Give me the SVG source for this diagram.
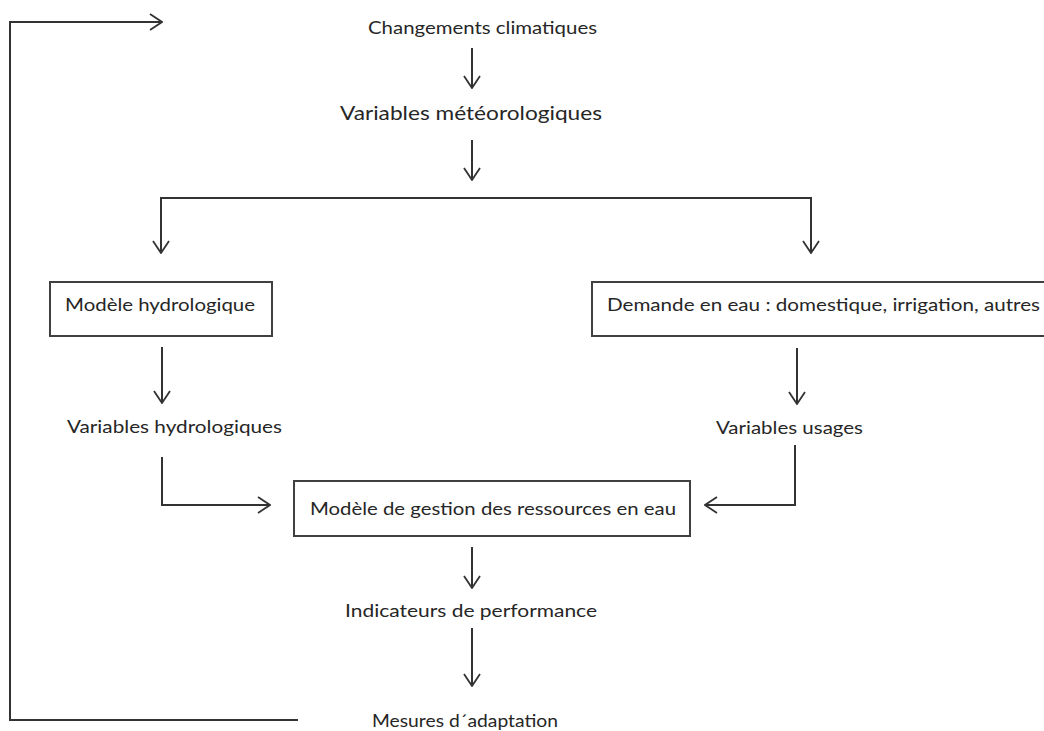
<svg xmlns="http://www.w3.org/2000/svg" width="1044" height="731" viewBox="0 0 1044 731">
<style>
.t{font-family:Lato,"Liberation Sans",sans-serif;font-size:18px;fill:#262626}
.big{font-size:20px}
.box{fill:#fff;stroke:#404040;stroke-width:2}
.c{fill:none;stroke:#333;stroke-width:2}
</style>
<defs>
<marker id="ah" viewBox="0 0 14 18" refX="13" refY="9" markerWidth="14" markerHeight="18" markerUnits="userSpaceOnUse" orient="auto">
<path d="M1,1 L13,9 L1,17" fill="none" stroke="#333" stroke-width="1.8"/>
</marker>
</defs>
<rect width="1044" height="731" fill="#fff"/>
<g id="connectors">
<path class="c" d="M298,720 H10 V22 H162" marker-end="url(#ah)"/>
<path class="c" d="M472,48 V88" marker-end="url(#ah)"/>
<path class="c" d="M472,140 V180" marker-end="url(#ah)"/>
<path class="c" d="M472,198 H161 V253" marker-end="url(#ah)"/>
<path class="c" d="M472,198 H811 V253" marker-end="url(#ah)"/>
<path class="c" d="M162,347 V403" marker-end="url(#ah)"/>
<path class="c" d="M797,348 V404" marker-end="url(#ah)"/>
<path class="c" d="M162,457 V505 H270" marker-end="url(#ah)"/>
<path class="c" d="M795,445 V505 H705" marker-end="url(#ah)"/>
<path class="c" d="M472,547 V588" marker-end="url(#ah)"/>
<path class="c" d="M472,628 V686" marker-end="url(#ah)"/>
</g>
<g id="n-changements"><text class="t" x="368" y="34" textLength="229" lengthAdjust="spacingAndGlyphs">Changements climatiques</text></g>
<g id="n-meteo"><text class="t big" x="340" y="120" textLength="262" lengthAdjust="spacingAndGlyphs">Variables météorologiques</text></g>
<g id="n-modele-hydro"><rect class="box" x="50" y="282" width="222" height="54"/><text class="t" x="65" y="311" textLength="190" lengthAdjust="spacingAndGlyphs">Modèle hydrologique</text></g>
<g id="n-demande"><rect class="box" x="592" y="282" width="460" height="54"/><text class="t" x="607" y="311" textLength="433" lengthAdjust="spacingAndGlyphs">Demande en eau : domestique, irrigation, autres</text></g>
<g id="n-var-hydro"><text class="t" x="67" y="433" textLength="215" lengthAdjust="spacingAndGlyphs">Variables hydrologiques</text></g>
<g id="n-var-usages"><text class="t" x="716" y="434" textLength="147" lengthAdjust="spacingAndGlyphs">Variables usages</text></g>
<g id="n-gestion"><rect class="box" x="294" y="481" width="396" height="55"/><text class="t" x="310" y="515" textLength="366" lengthAdjust="spacingAndGlyphs">Modèle de gestion des ressources en eau</text></g>
<g id="n-indicateurs"><text class="t" x="345" y="617" textLength="252" lengthAdjust="spacingAndGlyphs">Indicateurs de performance</text></g>
<g id="n-mesures"><text class="t" x="372" y="727" textLength="186" lengthAdjust="spacingAndGlyphs">Mesures d´adaptation</text></g>
</svg>
